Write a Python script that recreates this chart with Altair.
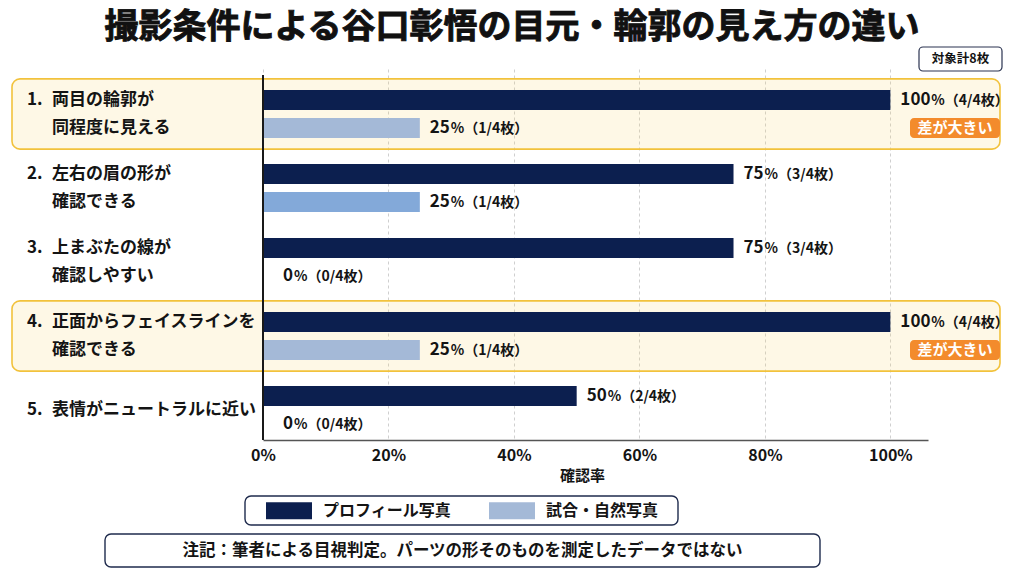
import altair as alt
import pandas as pd

# ---- data ---------------------------------------------------------------
nums = ["1.", "2.", "3.", "4.", "5."]
items = [
    "両目の輪郭が\n同程度に見える",
    "左右の眉の形が\n確認できる",
    "上まぶたの線が\n確認しやすい",
    "正面からフェイスラインを\n確認できる",
    "表情がニュートラルに近い",
]
profile_pct = [100, 75, 75, 100, 50]
profile_cnt = [4, 3, 3, 4, 2]
natural_pct = [25, 25, 0, 25, 0]
natural_cnt = [1, 1, 0, 1, 0]
big_gap = [True, False, False, True, False]
per_type = 4
series_names = ["プロフィール写真", "試合・自然写真"]
x_ticks = [0, 20, 40, 60, 80, 100]

title_text = "撮影条件による谷口彰悟の目元・輪郭の見え方の違い"
total_text = "対象計8枚"
badge_text = "差が大きい"
note_text = "注記：筆者による目視判定。パーツの形そのものを測定したデータではない"

# ---- styling -------------------------------------------------------------
W, H = 665, 365
FONT = "Noto Sans CJK JP"
NAVY = "#0c1f4f"
LIGHT = "#a4b9d7"
LIGHT_PLAIN = "#83a9d9"
INK = "#141414"
FRAME = "#1f2b4d"
ids = [str(i + 1) for i in range(len(items))]

cat_df = pd.DataFrame({
    "id": ids,
    "num": nums,
    "item": items,
    "lines": [t.count("\n") + 1 for t in items],
    "series": series_names[0],
    "hl": big_gap,
})

rows = []
for i, cid in enumerate(ids):
    for s, pct, cnt in ((series_names[0], profile_pct[i], profile_cnt[i]),
                        (series_names[1], natural_pct[i], natural_cnt[i])):
        rows.append({
            "id": cid, "series": s, "pct": pct, "cnt": cnt, "hl": big_gap[i],
            "num": str(pct), "digits": len(str(pct)),
            "rest": f"%（{cnt}/{per_type}枚）",
        })
bar_df = pd.DataFrame(rows)

y_enc = alt.Y("id:N", sort=ids, axis=None,
              scale=alt.Scale(domain=ids, range=[2, 372], paddingInner=0, paddingOuter=0))
yoff_enc = alt.YOffset("series:N", sort=series_names,
                       scale=alt.Scale(domain=series_names, paddingInner=0.29, paddingOuter=0.46))
x_scale = alt.Scale(domain=[0, 106], nice=False, zero=True)

base_bars = alt.Chart(bar_df)

# highlighted rows (background boxes)
boxes = alt.Chart(cat_df).transform_filter("datum.hl").mark_bar(
    fill="#f8d468", fillOpacity=0.17, stroke="#f2c23c", strokeWidth=1.6,
    cornerRadius=8, height={"band": 0.95},
).encode(x=alt.value(-251), x2=alt.value(737), y=y_enc)

bars = base_bars.mark_bar().encode(
    x=alt.X("pct:Q", scale=x_scale,
            axis=alt.Axis(values=x_ticks, labelExpr="datum.value + '%'", title="確認率",
                          grid=True, gridDash=[3, 3], gridColor="#cfcfcf", gridWidth=1,
                          ticks=False, domainColor="#555555", domainWidth=1.5,
                          labelFlush=False,
                          labelFont=FONT, labelFontSize=16, labelFontWeight="bold",
                          labelColor=INK, labelPadding=7, titleFont=FONT, titleFontSize=15,
                          titleFontWeight="bold", titleColor=INK, titlePadding=5, titleX=319)),
    y=y_enc,
    yOffset=yoff_enc,
    color=alt.condition(
        "!datum.hl && datum.series == '試合・自然写真'",
        alt.value(LIGHT_PLAIN),
        alt.Color("series:N", sort=series_names,
                  scale=alt.Scale(domain=series_names, range=[NAVY, LIGHT]),
                  legend=alt.Legend(title=None)),
    ),
)

# value labels: the number, then the smaller "%（n/4枚）" part;
# zero-length bars get a little extra room from the axis line
label_layers = []
for cond, gap in (("datum.pct > 0", 10), ("datum.pct == 0", 20)):
    src = base_bars.transform_filter(cond)
    label_layers.append(
        src.mark_text(
            align="left", baseline="middle", dx=gap, font=FONT, fontSize=17,
            fontWeight="bold", color=INK,
        ).encode(x=alt.X("pct:Q", scale=x_scale), y=y_enc, yOffset=yoff_enc, text="num:N")
    )
    for d in (1, 2, 3):
        label_layers.append(
            src.transform_filter(f"datum.digits == {d}").mark_text(
                align="left", baseline="middle", dx=gap + 10 * d + 1, dy=1, font=FONT,
                fontSize=14, fontWeight="bold", color=INK,
            ).encode(x=alt.X("pct:Q", scale=x_scale), y=y_enc, yOffset=yoff_enc, text="rest:N")
        )

# "差が大きい" badges on highlighted rows
badge_src = base_bars.transform_filter(
    f"datum.hl && datum.series == '{series_names[1]}'")
badges = badge_src.mark_bar(
    fill="#f38b2c", cornerRadius=4,
).encode(x=alt.value(647), x2=alt.value(737), y=y_enc, yOffset=yoff_enc)
badge_labels = badge_src.mark_text(
    align="center", baseline="middle", font=FONT, fontSize=15,
    fontWeight="bold", color="white",
).encode(x=alt.value(692), y=y_enc, yOffset=yoff_enc, text=alt.value(badge_text))

# category labels on the left: two-line labels start level with the first bar
label_style = dict(align="left", baseline="middle", lineBreak="\n", lineHeight=28,
                   font=FONT, fontSize=17, fontWeight="bold", color=INK)
cat_src = alt.Chart(cat_df)
two_line = cat_src.transform_filter("datum.lines > 1")
one_line = cat_src.transform_filter("datum.lines == 1")
cat_layers = [
    two_line.mark_text(**label_style).encode(x=alt.value(-236), y=y_enc, yOffset=yoff_enc, text="num:N"),
    two_line.mark_text(**label_style).encode(x=alt.value(-211), y=y_enc, yOffset=yoff_enc, text="item:N"),
    one_line.mark_text(**label_style).encode(x=alt.value(-236), y=y_enc, text="num:N"),
    one_line.mark_text(**label_style).encode(x=alt.value(-211), y=y_enc, text="item:N"),
]

# vertical axis line
y_line = alt.Chart(cat_df).mark_rule(color="#1a1a1a", strokeWidth=1.5).encode(
    x=alt.value(0), y=alt.value(0), y2=alt.value(H))

# title, sample-size tag, legend frame and footnote
one = pd.DataFrame({"k": [0]})
title = alt.Chart(one).mark_text(
    align="center", baseline="middle", font=FONT, fontSize=34,
    fontWeight="bold", color="#111111", stroke="#111111", strokeWidth=0.9,
).encode(x=alt.value(249), y=alt.value(-47), text=alt.value(title_text))

tag_box = alt.Chart(one).mark_rect(
    fill="white", stroke="#2a3350", strokeWidth=1.2, cornerRadius=4,
).encode(x=alt.value(656), x2=alt.value(739), y=alt.value(-28), y2=alt.value(-4))
tag_text = alt.Chart(one).mark_text(
    align="center", baseline="middle", font=FONT, fontSize=12.5,
    fontWeight="bold", color=INK,
).encode(x=alt.value(697.5), y=alt.value(-16), text=alt.value(total_text))

legend_box = alt.Chart(one).mark_rect(
    fill="white", stroke=FRAME, strokeWidth=1.4, cornerRadius=6,
).encode(x=alt.value(-18), x2=alt.value(415), y=alt.value(421), y2=alt.value(450))

note_box = alt.Chart(one).mark_rect(
    fill="white", stroke=FRAME, strokeWidth=1.4, cornerRadius=6,
).encode(x=alt.value(-158), x2=alt.value(557), y=alt.value(459), y2=alt.value(492))
note_label = alt.Chart(one).mark_text(
    align="center", baseline="middle", font=FONT, fontSize=16.5,
    fontWeight="bold", color=INK,
).encode(x=alt.value(199.5), y=alt.value(475.5), text=alt.value(note_text))

chart = alt.layer(
    boxes, bars, *label_layers, badges, badge_labels,
    *cat_layers, y_line, title, tag_box, tag_text, legend_box, note_box, note_label,
).properties(
    width=W, height=H,
    autosize=alt.AutoSizeParams(type="none"),
    padding={"left": 263, "top": 75, "right": 96, "bottom": 136},
    background="white",
).configure_view(stroke=None).configure_legend(
    orient="none", legendX=3, legendY=412.5, direction="horizontal", padding=0,
    symbolType="M-1,-0.37H1V0.37H-1Z", symbolSize=2116, symbolStrokeWidth=0,
    labelFont=FONT, labelFontSize=16, labelFontWeight="bold", labelColor=INK,
    labelOffset=11, columnPadding=37, labelLimit=300,
)

chart.save("out.html", embed_options={"renderer": "svg", "actions": False})
